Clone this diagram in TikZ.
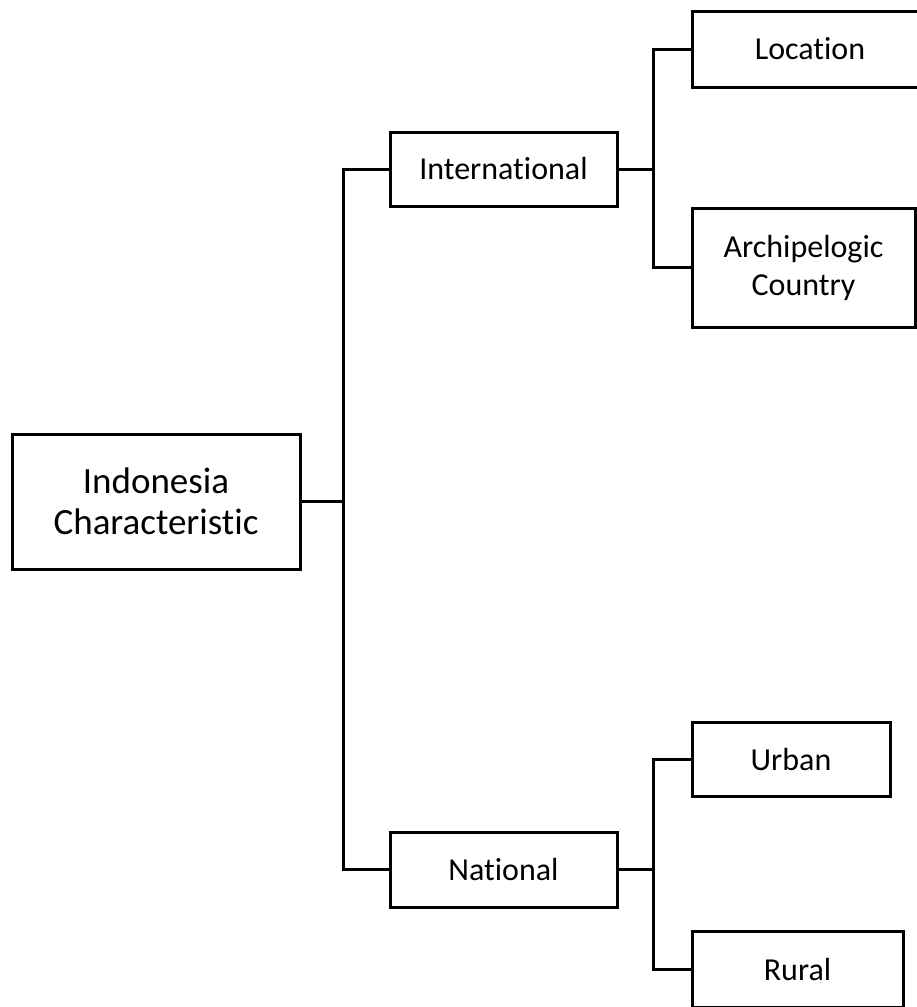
\documentclass[tikz,border=0pt]{standalone}
\usepackage{fontspec}
\setmainfont{Carlito}[Ligatures=NoCommon]
\begin{document}
\begin{tikzpicture}[x=1pt,y=-1pt,
  box/.style={draw=black, line width=3pt, inner sep=0pt, align=center,
    font=\fontsize{32}{38}\selectfont},
  bigbox/.style={box, font=\fontsize{37}{41.5}\selectfont},
  conn/.style={draw=black, line width=3pt, line join=miter}]
  \clip (0,0) rectangle (917,1007);
  \fill[white] (0,0) rectangle (917,1007);

  % tree nodes
  \node[bigbox, minimum width=288pt, minimum height=135pt] (root) at (156,501.5) {Indonesia\\Characteristic};
  \node[box, minimum width=227pt, minimum height=74pt] (intl) at (503.5,169) {International};
  \node[box, minimum width=227pt, minimum height=75pt] (natl) at (503.5,869.5) {National};
  \node[box, minimum width=236pt, minimum height=76pt] (loc) at (810,49) {Location};
  \node[box, minimum width=223pt, minimum height=119pt] (arch) at (803.5,267.5) {Archipelogic\\Country};
  \node[box, minimum width=198pt, minimum height=74pt] (urban) at (791,759) {Urban};
  \node[box, minimum width=211pt, minimum height=76pt] (rural) at (797.5,969.5) {Rural};

  % elbow connectors
  \draw[conn] (intl.west) -- ++(-45,0) coordinate (b1) -- (b1 |- natl.west) -- (natl.west);
  \draw[conn] (root.east) -- (root.east -| b1);
  \draw[conn] (loc.west) -- ++(-37,0) coordinate (b2) -- (b2 |- arch.west) -- (arch.west);
  \draw[conn] (intl.east) -- (intl.east -| b2);
  \draw[conn] (urban.west) -- ++(-37,0) coordinate (b3) -- (b3 |- rural.west) -- (rural.west);
  \draw[conn] (natl.east) -- (natl.east -| b3);
\end{tikzpicture}
\end{document}
